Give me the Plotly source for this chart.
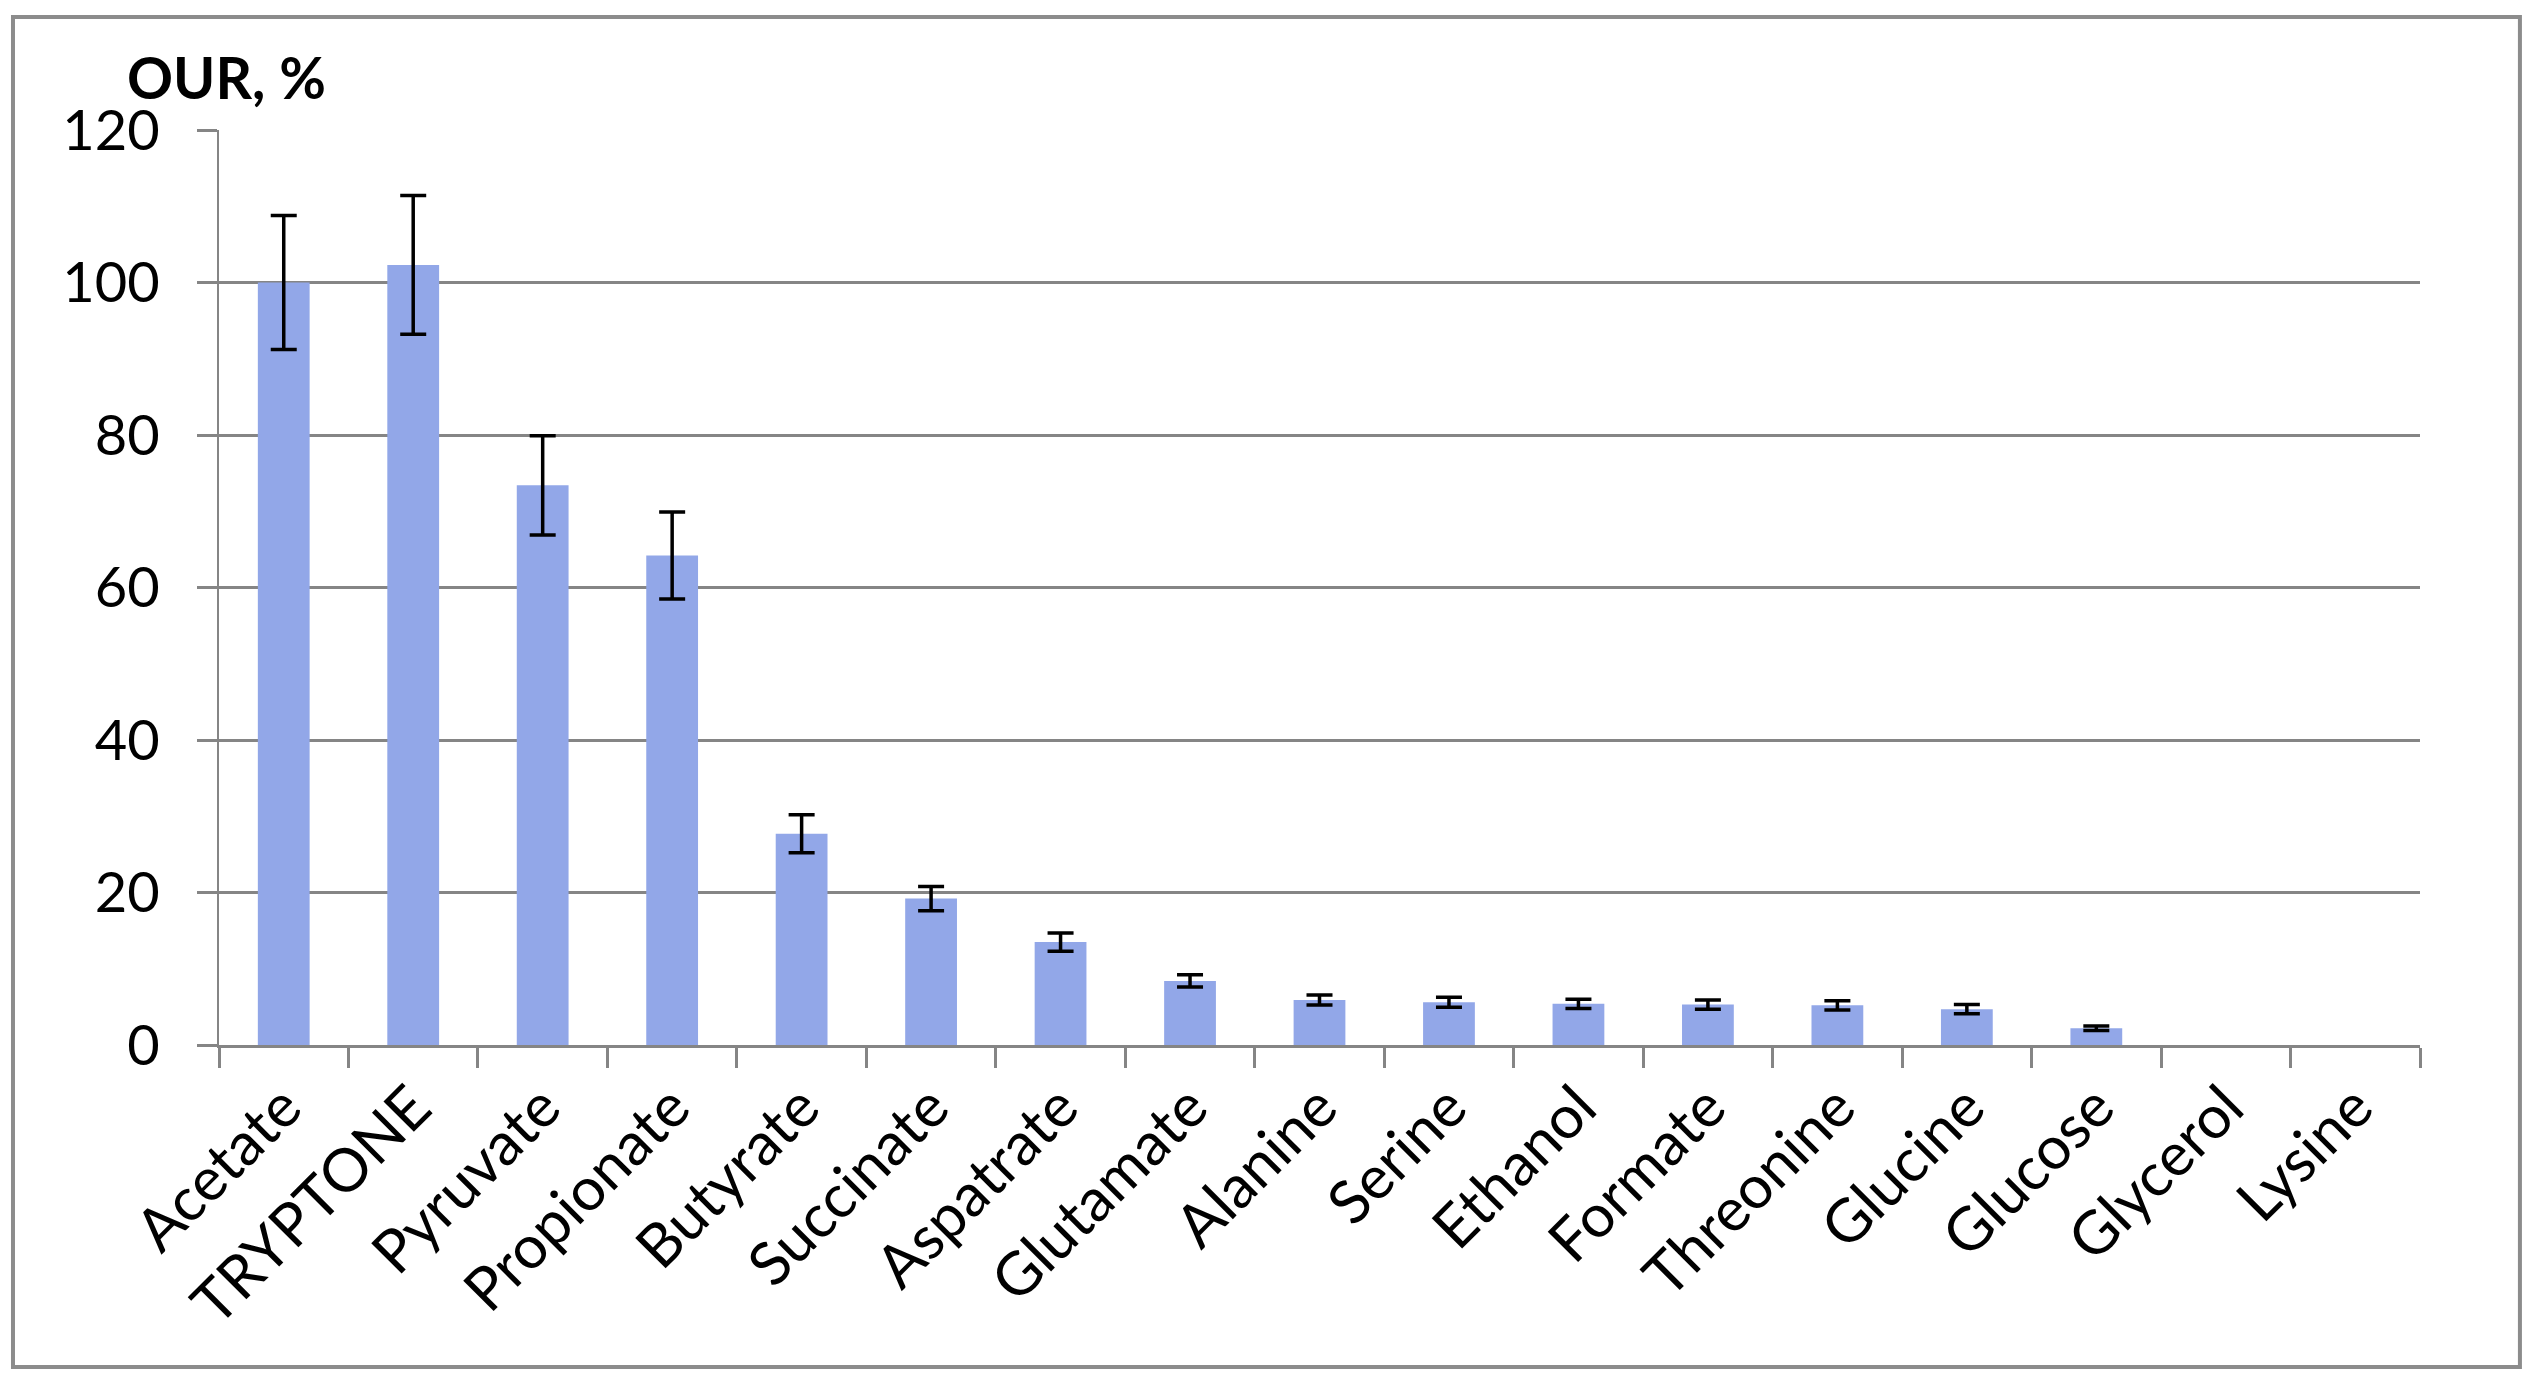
import plotly.graph_objects as go

# substrate, OUR (% of acetate) and error
substrates = ['Acetate', 'TRYPTONE', 'Pyruvate', 'Propionate', 'Butyrate', 'Succinate',
              'Aspatrate', 'Glutamate', 'Alanine', 'Serine', 'Ethanol', 'Formate',
              'Threonine', 'Glucine', 'Glucose', 'Glycerol', 'Lysine']
our_values = [100, 102.3, 73.4, 64.2, 27.7, 19.2, 13.5, 8.4, 5.9, 5.6, 5.4, 5.3, 5.2, 4.7, 2.2, 0, 0]
our_errors = [8.8, 9.1, 6.5, 5.7, 2.5, 1.6, 1.2, 0.8, 0.65, 0.65, 0.6, 0.6, 0.6, 0.6, 0.3, 0, 0]
y_ticks = [0, 20, 40, 60, 80, 100, 120]

FONT = 'Lato'
GRID = '#858585'

fig = go.Figure()
fig.add_trace(go.Bar(
    x=substrates,
    y=our_values,
    marker=dict(color='#92A7E8', line=dict(width=0)),
    showlegend=False,
))

# error bars only where there is an error (zero rows get no cap)
err_idx = [i for i, e in enumerate(our_errors) if e > 0]
fig.add_trace(go.Scatter(
    x=[substrates[i] for i in err_idx],
    y=[our_values[i] for i in err_idx],
    mode='markers',
    marker=dict(size=1, opacity=0),
    error_y=dict(type='data', array=[our_errors[i] for i in err_idx], visible=True,
                 color='black', thickness=3.5, width=13),
    showlegend=False,
    hoverinfo='skip',
))

# page body has an 8px margin, so the figure is a bit smaller than the window
fig.update_layout(
    width=2515, height=1368,
    margin=dict(l=211, r=103, t=122, b=331),
    paper_bgcolor='white', plot_bgcolor='white',
    bargap=0.6,
    font=dict(family=FONT, color='black'),
)

fig.update_xaxes(
    type='category',
    categoryorder='array', categoryarray=substrates,
    range=[-0.5, len(substrates) - 0.5],
    tickangle=-45,
    tickfont=dict(family=FONT, size=60, color='black'),
    showline=True, linecolor=GRID, linewidth=3,
    ticks='outside', tickson='boundaries', ticklen=20, tickwidth=3, tickcolor=GRID,
    showgrid=False,
)
fig.update_yaxes(
    range=[0, 120],
    tickvals=y_ticks,
    tickfont=dict(family=FONT, size=56, color='black'),
    showline=True, linecolor=GRID, linewidth=2,
    ticks='outside', ticklen=20, tickwidth=3, tickcolor=GRID,
    ticklabelstandoff=26,
    showgrid=True, gridcolor=GRID, gridwidth=3,
    zeroline=False,
)

# y-axis title sits above the axis, Excel style
fig.add_annotation(
    text='<b>OUR, %</b>', xref='paper', yref='paper',
    x=-0.0427, y=1.058, xanchor='left', yanchor='middle',
    showarrow=False, font=dict(family=FONT, size=57, color='black'),
)

# chart-area frame
fig.add_shape(
    type='rect', xref='paper', yref='paper',
    x0=-0.0936, x1=1.0454, y0=-0.3519, y1=1.1235,
    line=dict(color='#8C8C8C', width=4), layer='below',
)

fig.write_html("out.html")
